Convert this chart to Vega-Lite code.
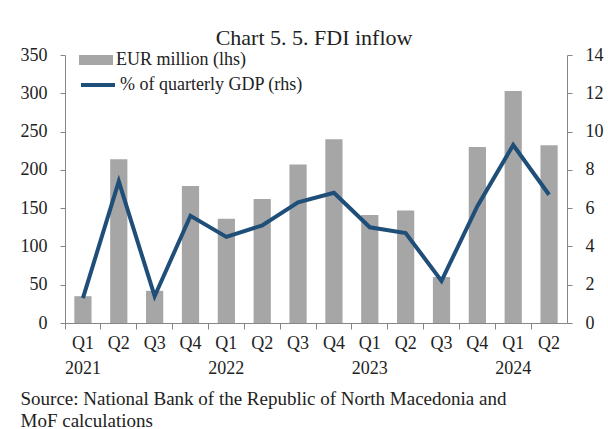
{
  "$schema": "https://vega.github.io/schema/vega-lite/v6.json",
  "autosize": "none",
  "width": 502,
  "height": 268,
  "padding": {"left": 65, "top": 55, "right": 41, "bottom": 106},
  "background": "white",
  "title": {
    "text": "Chart 5. 5. FDI inflow",
    "anchor": "middle",
    "font": "Liberation Serif",
    "fontSize": 22,
    "fontWeight": "normal",
    "color": "#222222",
    "baseline": "alphabetic",
    "offset": 8,
    "dx": -2,
    "dy": 32
  },
  "config": {
    "view": {"stroke": null},
    "font": "Liberation Serif",
    "axis": {
      "labelFont": "Liberation Serif",
      "labelFontSize": 18,
      "labelColor": "#222222",
      "domainColor": "#868686",
      "tickColor": "#868686",
      "grid": false
    },
    "legend": {
      "labelFont": "Liberation Serif",
      "labelFontSize": 18,
      "labelColor": "#222222",
      "labelLimit": 400
    }
  },
  "data": {
    "values": [
      {"q": "Q1 2021", "eur": 35, "pct": 1.3},
      {"q": "Q2 2021", "eur": 214, "pct": 7.4},
      {"q": "Q3 2021", "eur": 42, "pct": 1.4},
      {"q": "Q4 2021", "eur": 179, "pct": 5.6},
      {"q": "Q1 2022", "eur": 136, "pct": 4.5},
      {"q": "Q2 2022", "eur": 162, "pct": 5.1},
      {"q": "Q3 2022", "eur": 207, "pct": 6.3},
      {"q": "Q4 2022", "eur": 240, "pct": 6.8},
      {"q": "Q1 2023", "eur": 141, "pct": 5.0},
      {"q": "Q2 2023", "eur": 147, "pct": 4.7},
      {"q": "Q3 2023", "eur": 60, "pct": 2.2},
      {"q": "Q4 2023", "eur": 230, "pct": 6.1},
      {"q": "Q1 2024", "eur": 303, "pct": 9.3},
      {"q": "Q2 2024", "eur": 232, "pct": 6.7}
    ]
  },
  "layer": [
    {
      "mark": {"type": "bar", "width": {"band": 0.48}},
      "encoding": {
        "x": {
          "field": "q",
          "type": "ordinal",
          "sort": null,
          "scale": {"type": "band", "paddingInner": 0, "paddingOuter": 0},
          "axis": {
            "orient": "bottom",
            "labelAngle": 0,
            "ticks": false,
            "domain": true,
            "labelPadding": 11,
            "labelBaseline": "top",
            "labelLineHeight": 25,
            "labelExpr": "substring(datum.value,0,2) == 'Q1' ? [substring(datum.value,0,2), substring(datum.value,3)] : substring(datum.value,0,2)",
            "title": ["Source: National Bank of the Republic of North Macedonia and", "MoF calculations"],
            "titleFont": "Liberation Serif",
            "titleFontSize": 19,
            "titleFontWeight": "normal",
            "titleColor": "#222222",
            "titleAnchor": "start",
            "titleAlign": "left",
            "titleBaseline": "alphabetic",
            "titleLineHeight": 22,
            "titleX": -45,
            "titleY": 81
          }
        },
        "y": {
          "field": "eur",
          "type": "quantitative",
          "scale": {"domain": [0, 350], "nice": false},
          "axis": {
            "orient": "left",
            "values": [0, 50, 100, 150, 200, 250, 300, 350],
            "tickSize": 5,
            "labelPadding": 13,
            "title": null
          }
        },
        "fill": {
          "datum": "EUR million (lhs)",
          "scale": {"range": ["#A6A6A6"]},
          "legend": {
            "orient": "none",
            "legendX": 14,
            "legendY": -12,
            "title": null,
            "padding": 0,
            "symbolType": "M-1,-0.3H1V0.3H-1Z",
            "symbolSize": 1156,
            "symbolStrokeWidth": 0,
            "labelOffset": 3
          }
        }
      }
    },
    {
      "mark": {"type": "line", "strokeWidth": 4},
      "encoding": {
        "x": {
          "field": "q",
          "type": "ordinal",
          "sort": null,
          "scale": {"type": "band", "paddingInner": 0, "paddingOuter": 0},
          "axis": {
            "orient": "bottom",
            "labels": false,
            "domain": false,
            "ticks": true,
            "tickSize": 6,
            "bandPosition": 0,
            "title": null
          }
        },
        "y": {
          "field": "pct",
          "type": "quantitative",
          "scale": {"domain": [0, 14], "nice": false},
          "axis": {
            "orient": "right",
            "values": [0, 2, 4, 6, 8, 10, 12, 14],
            "tickSize": 5,
            "labelPadding": 13,
            "title": null
          }
        },
        "stroke": {
          "datum": "% of quarterly GDP (rhs)",
          "scale": {"range": ["#1F4E79"]},
          "legend": {
            "orient": "none",
            "legendX": 14,
            "legendY": 11,
            "title": null,
            "padding": 0,
            "symbolType": "stroke",
            "symbolSize": 1156,
            "symbolStrokeWidth": 4,
            "labelOffset": 3
          }
        }
      }
    }
  ],
  "resolve": {
    "scale": {"y": "independent", "fill": "independent", "stroke": "independent"},
    "axis": {"x": "independent", "y": "independent"},
    "legend": {"fill": "independent", "stroke": "independent"}
  }
}
